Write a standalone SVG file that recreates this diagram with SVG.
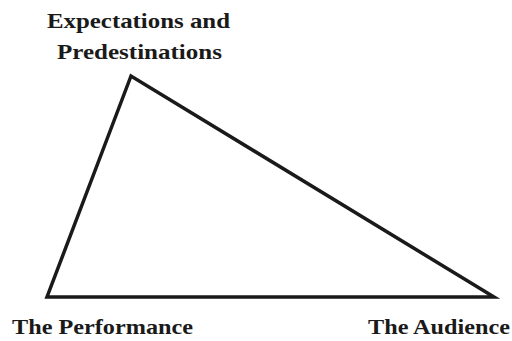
<svg xmlns="http://www.w3.org/2000/svg" width="512" height="341" viewBox="0 0 512 341">
<style>
.t{font-family:"Liberation Serif","Times New Roman",serif;font-weight:bold;font-size:22px;fill:#1a1a1a}
.e{fill:none;stroke:#1a1a1a;stroke-width:3.5;stroke-linejoin:miter}
</style>
<rect width="512" height="341" fill="#fff"/>
<g id="connectors">
<path class="e" d="M131,76 L47,297 L494,297 Z"/>
</g>
<g id="node-expectations">
<text class="t" x="47" y="28" textLength="183" lengthAdjust="spacingAndGlyphs">Expectations and</text>
<text class="t" x="57" y="59" textLength="165" lengthAdjust="spacingAndGlyphs">Predestinations</text>
</g>
<g id="node-performance">
<text class="t" x="12" y="334" textLength="181" lengthAdjust="spacingAndGlyphs">The Performance</text>
</g>
<g id="node-audience">
<text class="t" x="368" y="334" textLength="142" lengthAdjust="spacingAndGlyphs">The Audience</text>
</g>
</svg>
